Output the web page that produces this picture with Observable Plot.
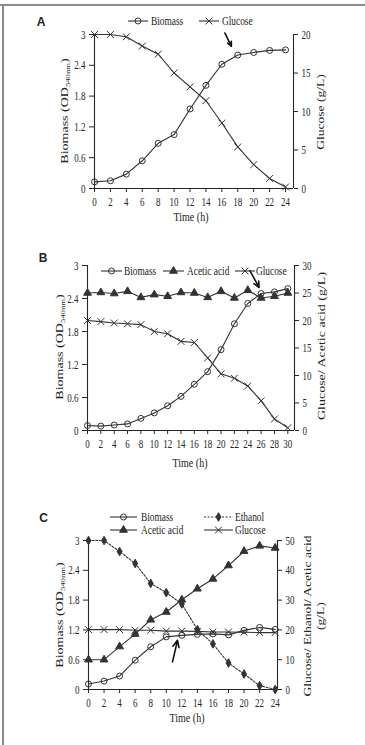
<!DOCTYPE html>
<html>
<head>
<meta charset="utf-8">
<script src="https://cdn.jsdelivr.net/npm/d3@7"></script>
<script src="https://cdn.jsdelivr.net/npm/@observablehq/plot@0.6"></script>
<style>
  html, body { margin: 0; padding: 0; background: #fff; }
  #root { position: relative; width: 365px; height: 745px; overflow: hidden; background: #fff;
          font-family: "Liberation Serif", "Times New Roman", serif; color: #222; }
  .abs { position: absolute; }
  .frameTop { position: absolute; left: 0; top: 4px; width: 365px; height: 2px; background: #8c8c8c; }
  .frameLeft { position: absolute; left: 2px; top: 4px; width: 2px; height: 741px; background: #8c8c8c; }
  .plabel { position: absolute; font-family: "Liberation Sans", Arial, sans-serif; font-weight: bold; font-size: 12px;
            transform: translate(-50%, -50%); line-height: 14px; }
  .leg { position: absolute; font-size: 12px; line-height: 14px; white-space: nowrap;
         transform: scaleX(0.78); transform-origin: 0 50%; }
  .ttl { position: absolute; white-space: nowrap; line-height: 1; text-align: center; }
  .ttl sub { font-size: 0.62em; vertical-align: -0.3em; line-height: 0; }
</style>
</head>
<body>
<div id="root">
  <div class="frameTop"></div>
  <div class="frameLeft"></div>
</div>
<script>
// ---------------- data ----------------
const timeA = [0, 2, 4, 6, 8, 10, 12, 14, 16, 18, 20, 22, 24];
const biomassA = [0.13, 0.15, 0.28, 0.54, 0.88, 1.05, 1.55, 2.01, 2.42, 2.60, 2.65, 2.69, 2.70];
const glucoseA = [20, 20, 19.7, 18.5, 17.45, 15.0, 13.2, 11.4, 8.5, 5.4, 3.1, 1.3, 0.2];

const timeB = [0, 2, 4, 6, 8, 10, 12, 14, 16, 18, 20, 22, 24, 26, 28, 30];
const biomassB = [0.09, 0.08, 0.10, 0.12, 0.22, 0.32, 0.45, 0.62, 0.84, 1.07, 1.47, 1.94, 2.31, 2.49, 2.52, 2.58];
const aceticB = [25.0, 25.1, 24.9, 25.3, 24.2, 24.7, 24.4, 25.1, 25.0, 24.2, 25.3, 24.1, 25.5, 24.1, 24.4, 25.0];
const glucoseB = [20.0, 19.8, 19.55, 19.4, 19.25, 18.0, 17.6, 16.2, 16.0, 13.2, 10.3, 9.5, 8.1, 5.4, 2.1, 0.5];

const timeC = [0, 2, 4, 6, 8, 10, 12, 14, 16, 18, 20, 22, 24];
const biomassC = [0.11, 0.17, 0.27, 0.59, 0.86, 1.06, 1.09, 1.11, 1.12, 1.10, 1.19, 1.25, 1.21];
const ethanolC = [50, 50, 46.3, 42.3, 35.6, 32.5, 28.7, 20.1, 15.3, 8.9, 5.2, 1.3, 0];
const aceticC = [10, 10, 14.4, 18.6, 23.4, 26.0, 30.1, 33.8, 37.1, 41.6, 46.4, 48.2, 47.5];
const glucoseC = [20.1, 20.1, 20.1, 19.9, 19.9, 19.6, 19.6, 19.5, 19.3, 19.3, 19.2, 19.1, 19.1];

const leftTicks = [0, 0.6, 1.2, 1.8, 2.4, 3];
const rightTicksA = [0, 5, 10, 15, 20];
const rightTicksB = [0, 5, 10, 15, 20, 25, 30];
const rightTicksC = [0, 10, 20, 30, 40, 50];

const seriesNamesA = ["Biomass", "Glucose"];
const seriesNamesB = ["Biomass", "Acetic acid", "Glucose"];
const seriesNamesC = ["Biomass", "Ethanol", "Acetic acid", "Glucose"];

// arrow annotations (data units)
const arrowA = [{x1: 16.37, y1: 3.03, x2: 17.2, y2: 2.77}];
const arrowB = [{x1: 24.3, y1: 2.91, x2: 25.7, y2: 2.60}];
const arrowC = [{x1: 10.8, y1: 0.555, x2: 11.44, y2: 0.99}];

// ---------------- styles ----------------
const FONT = '"Liberation Serif", "Times New Roman", serif';
const INK = "#262626";
const LINE = "#333";
const SW = 1.1;
const SQUEEZE = 0.72;   // the reference type is horizontally condensed

const SYM = {
  circle:   {plot: "circle",   d3: d3.symbolCircle,   r: 3,   fill: false},
  times:    {plot: "times",    d3: d3.symbolTimes,    r: 3.2, fill: false},
  triangle: {plot: "triangle", d3: d3.symbolTriangle, r: 2.9, fill: true},
  diamond:  {plot: "diamond",  d3: d3.symbolDiamond,  r: 2.6, fill: true}
};

const root = d3.select("#root");

function seriesMarks(rows, key, symKey, dashed) {
  const s = SYM[symKey];
  return [
    Plot.line(rows, {x: "t", y: key, stroke: LINE, strokeWidth: SW, strokeDasharray: dashed ? "2,1.6" : null}),
    Plot.dot(rows, {x: "t", y: key, symbol: s.plot, r: s.r, stroke: LINE, strokeWidth: 1,
                    fill: s.fill ? LINE : "none"})
  ];
}

function squeezeText(svg) {
  svg.querySelectorAll("text").forEach(el => {
    const t = el.getAttribute("transform") || "";
    el.setAttribute("transform", (t + ` scale(${SQUEEZE},1)`).trim());
  });
}

function panel(cfg) {
  const common = {
    width: 365, height: cfg.height,
    marginLeft: cfg.mL, marginRight: cfg.mR, marginTop: cfg.mT, marginBottom: cfg.mB,
    style: {fontFamily: FONT, fontSize: "12.5px", color: INK, background: "transparent", overflow: "visible"}
  };
  const p1 = Plot.plot({
    ...common,
    x: {domain: cfg.xDomain},
    y: {domain: [0, 3]},
    marks: [
      Plot.ruleX([0], {stroke: INK, strokeWidth: 1.1}),
      Plot.ruleY([0], {stroke: INK, strokeWidth: 1.1}),
      Plot.axisY(leftTicks, {anchor: "left", tickSize: 5, tickPadding: 4, label: null, tickFormat: d => String(d)}),
      Plot.axisX(cfg.times, {anchor: "bottom", tickSize: 4, tickPadding: 5, label: null}),
      ...cfg.left.flatMap(s => seriesMarks(cfg.rows, s.key, s.sym, s.dashed)),
      Plot.arrow(cfg.arrow, {x1: "x1", y1: "y1", x2: "x2", y2: "y2", stroke: "#111", strokeWidth: 1.6, headLength: 7, headAngle: 50})
    ]
  });
  const p2 = Plot.plot({
    ...common,
    x: {domain: cfg.xDomain, axis: null},
    y: {domain: cfg.rightDomain},
    marks: [
      Plot.ruleX([cfg.xDomain[1]], {stroke: INK, strokeWidth: 1.1}),
      Plot.axisY(cfg.rightTicks, {anchor: "right", tickSize: 4, tickPadding: 4, label: null}),
      ...cfg.right.flatMap(s => seriesMarks(cfg.rows, s.key, s.sym, s.dashed))
    ]
  });
  for (const p of [p1, p2]) {
    squeezeText(p);
    d3.select(p).style("position", "absolute").style("left", "0px").style("top", cfg.top + "px");
    root.node().appendChild(p);
  }
}

function legendItem(x1, x2, y, symKey, label, textX, dashed) {
  const s = SYM[symKey];
  const w = x2 - x1;
  const svg = root.append("svg").attr("class", "abs")
    .style("left", x1 + "px").style("top", (y - 6) + "px")
    .attr("width", w).attr("height", 12).style("overflow", "visible");
  svg.append("line").attr("x1", 0).attr("x2", w).attr("y1", 6).attr("y2", 6)
    .attr("stroke", LINE).attr("stroke-width", SW)
    .attr("stroke-dasharray", dashed ? "2,1.6" : null);
  svg.append("path").attr("d", d3.symbol(s.d3, s.r * s.r * Math.PI)())
    .attr("transform", `translate(${w / 2},6)`)
    .attr("fill", s.fill ? LINE : "none").attr("stroke", LINE).attr("stroke-width", 1);
  root.append("div").attr("class", "leg")
    .style("left", textX + "px").style("top", (y - 7) + "px").text(label);
}

function title(html, cx, cy, size, rotate, squeeze) {
  root.append("div").attr("class", "ttl")
    .style("left", cx + "px").style("top", cy + "px").style("font-size", size + "px")
    .style("transform", `translate(-50%, -50%) scaleX(${squeeze})${rotate ? " rotate(-90deg)" : ""}`)
    .html(html);
}
function plabel(t, cx, cy) {
  root.append("div").attr("class", "plabel").style("left", cx + "px").style("top", cy + "px").text(t);
}

const biomassTitle = "Biomass (OD<sub>540nm</sub>)";

// ---------------- Panel A ----------------
panel({
  top: 0, height: 225, mL: 94, mR: 72, mT: 34, mB: 37,
  xDomain: [0, 25], times: timeA, rightDomain: [0, 20], rightTicks: rightTicksA,
  rows: timeA.map((t, i) => ({t, biomass: biomassA[i], glucose: glucoseA[i]})),
  left: [{key: "biomass", sym: "circle"}],
  right: [{key: "glucose", sym: "times"}],
  arrow: arrowA
});
plabel("A", 41, 22);
legendItem(128, 148, 20.7, "circle", seriesNamesA[0], 151);
legendItem(199, 219, 20.7, "times", seriesNamesA[1], 222);
title(biomassTitle, 65, 111, 14, true, 0.72);
title("Glucose (g/L)", 320.5, 111.5, 13.5, true, 0.72);
title("Time (h)", 191, 217, 12.5, false, 0.8);

// ---------------- Panel B ----------------
panel({
  top: 230, height: 230, mL: 87, mR: 71, mT: 35, mB: 30,
  xDomain: [0, 31], times: timeB, rightDomain: [0, 30], rightTicks: rightTicksB,
  rows: timeB.map((t, i) => ({t, biomass: biomassB[i], acetic: aceticB[i], glucose: glucoseB[i]})),
  left: [{key: "biomass", sym: "circle"}],
  right: [{key: "glucose", sym: "times"}, {key: "acetic", sym: "triangle"}],
  arrow: arrowB
});
plabel("B", 43, 258);
legendItem(101, 122, 270.7, "circle", seriesNamesB[0], 124);
legendItem(163, 184, 270.7, "triangle", seriesNamesB[1], 187);
legendItem(235, 255, 270.7, "times", seriesNamesB[2], 256);
title(biomassTitle, 60, 347, 14, true, 0.72);
title("Glucose/ Acetic acid (g/L)", 321.5, 346, 14, true, 0.72);
title("Time (h)", 190, 463, 12.5, false, 0.8);

// ---------------- Panel C ----------------
panel({
  top: 510, height: 215, mL: 88, mR: 88, mT: 30, mB: 36,
  xDomain: [0, 24.3], times: timeC, rightDomain: [0, 50], rightTicks: rightTicksC,
  rows: timeC.map((t, i) => ({t, biomass: biomassC[i], ethanol: ethanolC[i], acetic: aceticC[i], glucose: glucoseC[i]})),
  left: [{key: "biomass", sym: "circle"}],
  right: [{key: "glucose", sym: "times"}, {key: "acetic", sym: "triangle"}, {key: "ethanol", sym: "diamond", dashed: true}],
  arrow: arrowC
});
plabel("C", 43.5, 518);
legendItem(110, 137, 517.3, "circle", seriesNamesC[0], 141);
legendItem(204, 233, 517.3, "diamond", seriesNamesC[1], 235, true);
legendItem(110, 137, 530, "triangle", seriesNamesC[2], 141);
legendItem(204, 233, 530, "times", seriesNamesC[3], 235);
title(biomassTitle, 60, 615, 14, true, 0.72);
title("Glucose/ Ethanol/ Acetic acid", 308, 616, 13.5, true, 0.72);
title("(g/L)", 320.5, 616, 13.5, true, 0.72);
title("Time (h)", 187, 718, 12.5, false, 0.8);
</script>
</body>
</html>
